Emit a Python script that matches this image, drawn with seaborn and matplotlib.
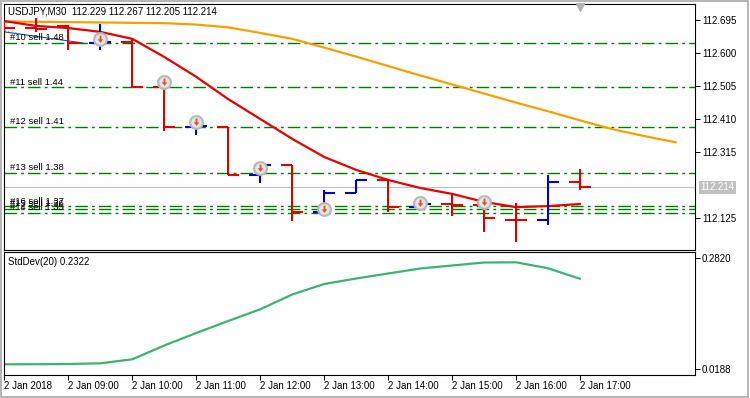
import numpy as np
import pandas as pd
import matplotlib
matplotlib.use("Agg")
import matplotlib.pyplot as plt
import seaborn as sns
from matplotlib.path import Path
from matplotlib.patches import Rectangle

# ---------------- data ----------------
times = ["08:00", "08:30", "09:00", "09:30", "10:00", "10:30", "11:00", "11:30",
         "12:00", "12:30", "13:00", "13:30", "14:00", "14:30", "15:00", "15:30",
         "16:00", "16:30", "17:00"]
opens  = [112.676, 112.672, 112.677, 112.628, 112.631, 112.502, 112.387, 112.388,
          112.249, 112.278, 112.143, 112.198, 112.235, 112.157, 112.166, 112.163,
          112.121, 112.120, 112.229]
highs  = [112.690, 112.700, 112.680, 112.683, 112.640, 112.522, 112.393, 112.388,
          112.278, 112.279, 112.206, 112.235, 112.238, 112.163, 112.192, 112.157,
          112.169, 112.249, 112.267]
lows   = [112.662, 112.660, 112.608, 112.608, 112.502, 112.376, 112.364, 112.249,
          112.226, 112.117, 112.140, 112.198, 112.143, 112.146, 112.132, 112.086,
          112.057, 112.106, 112.205]
closes = [112.670, 112.668, 112.628, 112.631, 112.502, 112.387, 112.389, 112.249,
          112.278, 112.143, 112.198, 112.235, 112.157, 112.166, 112.163, 112.126,
          112.120, 112.229, 112.214]
ma_fast = [112.691, 112.677, 112.671, 112.660, 112.640, 112.588, 112.531, 112.467,
           112.410, 112.353, 112.301, 112.264, 112.235, 112.212, 112.195, 112.172,
           112.157, 112.160, 112.166]
# slow MA is drawn shifted forward by 3 bars
ma_slow = [112.690, 112.689, 112.688, 112.687, 112.686, 112.685, 112.681, 112.673,
           112.657, 112.640, 112.615, 112.589, 112.562, 112.535, 112.509, 112.483,
           112.457, 112.432, 112.406, 112.381, 112.361, 112.343]
stddev = [0.0306, 0.0308, 0.0313, 0.0329, 0.0424, 0.0749, 0.1044, 0.1327, 0.1603,
          0.1952, 0.2199, 0.2329, 0.2447, 0.2565, 0.2636, 0.2706, 0.2711, 0.2570,
          0.2322]
sell_labels = ["#10 sell 1.48", "#11 sell 1.44", "#12 sell 1.41", "#13 sell 1.38",
               "#16 sell 1.37", "#15 sell 1.36", "#14 sell 1.35"]
sell_levels = [112.628, 112.501, 112.387, 112.256, 112.159, 112.153, 112.141]
trade_times = ["09:30", "10:30", "11:00", "12:00", "13:00", "14:30", "15:30"]
trade_prices = [112.640, 112.516, 112.401, 112.269, 112.152, 112.169, 112.172]
date_ticks = ["2 Jan 2018", "2 Jan 09:00", "2 Jan 10:00", "2 Jan 11:00", "2 Jan 12:00",
              "2 Jan 13:00", "2 Jan 14:00", "2 Jan 15:00", "2 Jan 16:00", "2 Jan 17:00"]
date_tick_times = ["08:00", "09:00", "10:00", "11:00", "12:00", "13:00", "14:00",
                   "15:00", "16:00", "17:00"]
price_ticks = [112.695, 112.600, 112.505, 112.410, 112.315, 112.125]
std_ticks = [0.2820, 0.0188]
last_price = 112.214
header = "USDJPY,M30  112.229 112.267 112.205 112.214"
std_title = "StdDev(20) 0.2322"

# ---------------- style ----------------
sns.set_style("white")
plt.rcParams['font.family'] = ['Liberation Sans', 'DejaVu Sans']
plt.rcParams['lines.scale_dashes'] = False

W, H = 750, 398
fig = plt.figure(figsize=(W / 100, H / 100), dpi=100)
fig.patch.set_facecolor("white")

def fx(px):
    return px / W

def fy(py):
    return 1 - py / H

L, R = 4, 695
ax = fig.add_axes([fx(L), fy(250), fx(R - L), (250 - 4) / H])
ax2 = fig.add_axes([fx(L), fy(375), fx(R - L), (375 - 252) / H])

idx = {t: i for i, t in enumerate(times)}
x = np.arange(len(times))
df = pd.DataFrame({"x": x, "open": opens, "high": highs, "low": lows,
                   "close": closes, "ma": ma_fast, "std": stddev})
df_slow = pd.DataFrame({"x": np.arange(len(ma_slow)), "ma": ma_slow})

XMIN, XMAX = -0.01, (R - L) / 32.0
ax.set_xlim(XMIN, XMAX)
ax2.set_xlim(XMIN, XMAX)
ax.set_ylim(112.034, 112.740)
ax2.set_ylim(0.0054, 0.2954)

# horizontal sell levels
green = "#007a00"
for lvl, lab in zip(sell_levels, sell_labels):
    ax.axhline(lvl, color=green, lw=1.0, linestyle=(0, (9, 3, 2, 3)), zorder=1)
    ax.annotate(lab, xy=(0.19, lvl), xytext=(0, 0.5), textcoords="offset points",
                ha="left", va="bottom", fontsize=6.8, color="black", zorder=6)

# current price line
ax.axhline(last_price, color="#c0c0c0", lw=0.8, zorder=1)

# trade history lines (top left)
ax.plot([0, 2.47], [112.660, 112.628], color="#1f4e9a", lw=0.8, zorder=2)
ax.plot([0, 1.0], [112.664, 112.645], color="#4fa3c8", lw=0.8, ls=":", zorder=2)

# moving averages
sns.lineplot(data=df_slow, x="x", y="ma", ax=ax, color="#f5a000", lw=1.6,
             legend=False, zorder=2)
sns.lineplot(data=df, x="x", y="ma", ax=ax, color="#e60000", lw=1.6,
             legend=False, zorder=2)

# OHLC bars
tw = 0.34
cols = ["#0000c8" if c > o else "#e00000" for o, c in zip(opens, closes)]
ax.vlines(x, lows, highs, colors=cols, lw=1.5, zorder=3)
ax.hlines(opens, x - tw, x, colors=cols, lw=1.5, zorder=3)
ax.hlines(closes, x, x + tw, colors=cols, lw=1.5, zorder=3)

# trade markers
tx = [idx[t] for t in trade_times]
ax.plot(tx, trade_prices, ls="none", marker="o", ms=9.2, mfc="#e4e4e4",
        mec="#b8b8b8", mew=1.5, zorder=4)
arrow = Path([(-0.22, 0.9), (0.22, 0.9), (0.22, 0.05), (0.65, 0.05), (0.0, -0.8),
              (-0.65, 0.05), (-0.22, 0.05), (-0.22, 0.9)])
ax.plot(tx, trade_prices, ls="none", marker=arrow, ms=5.5, mfc="#e2512a",
        mec="none", zorder=5)

# shift marker triangle at top
ax.plot([idx["17:00"]], [112.7315], marker="v", ms=6, color="#b4b4b4",
        ls="none", clip_on=False, zorder=6)

# price axis
ax.yaxis.tick_right()
ax.set_yticks(price_ticks)
ax.set_yticklabels([f"{p:.3f}" for p in price_ticks])
ax.set_xticks([])
ax.tick_params(axis="y", direction="out", length=3.6, width=0.7, pad=1.5,
               labelsize=7, colors="black")
ax.set_xlabel("")
ax.set_ylabel("")
for s in ax.spines.values():
    s.set_color("black")
    s.set_linewidth(0.8)
ax.annotate(f"{last_price:.3f}", xy=(1, last_price),
            xycoords=("axes fraction", "data"), xytext=(4, 0),
            textcoords="offset points", ha="left", va="center", fontsize=7,
            color="white",
            bbox=dict(boxstyle="square,pad=0.15", fc="#c0c0c0", ec="none"),
            annotation_clip=False)
ax.text((8 - L) / (R - L), 1 - (12 - 4) / 246, header, transform=ax.transAxes,
        ha="left", va="center", fontsize=7, color="black")

# StdDev panel
sns.lineplot(data=df, x="x", y="std", ax=ax2, color="#3cb371", lw=1.6,
             legend=False)
ax2.yaxis.tick_right()
ax2.set_yticks(std_ticks)
ax2.set_yticklabels([f"{v:.4f}" for v in std_ticks])
ax2.set_xticks([idx[t] for t in date_tick_times])
ax2.set_xticklabels(date_ticks)
for lbl in ax2.get_xticklabels():
    lbl.set_ha("left")
ax2.tick_params(axis="y", direction="out", length=3.6, width=0.7, pad=1.5,
                labelsize=7, colors="black")
ax2.tick_params(axis="x", direction="out", length=3.6, width=0.7, pad=1.0,
                labelsize=7, colors="black", bottom=True)
ax2.set_xlabel("")
ax2.set_ylabel("")
for s in ax2.spines.values():
    s.set_color("black")
    s.set_linewidth(0.8)
ax2.text((8 - L) / (R - L), 1 - 10 / 123, std_title, transform=ax2.transAxes,
         ha="left", va="center", fontsize=7, color="black")

# window border
fig.patches.append(Rectangle((0.5 / W, 1.5 / H), (747.5 - 0.5) / W, (H - 2.5) / H,
                             transform=fig.transFigure, fill=False,
                             ec="#a8a8a8", lw=1.2))

fig.savefig("out.png", dpi=100)
